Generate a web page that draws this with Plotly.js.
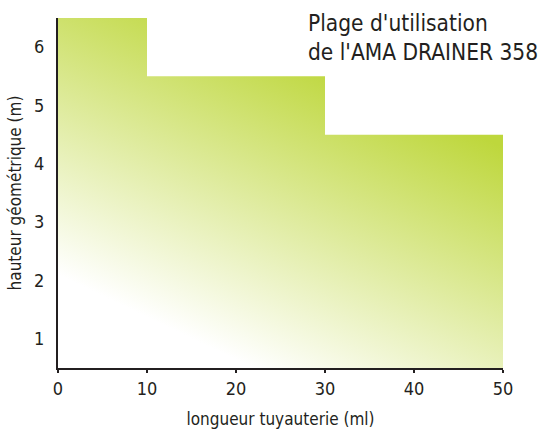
<!DOCTYPE html>
<html>
<head>
<meta charset="utf-8">
<script src="https://cdn.plot.ly/plotly-3.0.1.min.js"></script>
<style>html,body{margin:0;padding:0;background:#fff;}#chart{width:543px;height:433px;}</style>
</head>
<body>
<div id="chart"></div>
<script>
// ---- data ----
var lengthsMl = [0, 10, 30, 50];          // longueur tuyauterie (ml) – step starts
var heightsM  = [6.5, 5.5, 4.5, 4.5];     // hauteur géométrique (m) – max height per step
var xTickVals = [0, 10, 20, 30, 40, 50];
var yLabelVals = [1, 2, 3, 4, 5, 6];
var yTickMarks = [0.5, 1.5, 2.5, 3.5, 4.5, 5.5, 6.5];
var titleLines = ["Plage d'utilisation", "de l'AMA DRAINER 358"];
var xTitle = "longueur tuyauterie (ml)";
var yTitle = "hauteur géométrique (m)";

// ---- style ----
var FONT = '"Liberation Sans Narrow", "DejaVu Sans Condensed", "Arial Narrow", sans-serif';
var INK = '#231f20';
var GREEN = '#bed73c';
var GRAD = { whitePt: [0, 2.1], greenPt: [14.9, 6.85] }; // diagonal gradient direction (style)

var traces = [{
  type: 'scatter', mode: 'lines',
  x: lengthsMl, y: heightsM,
  line: { shape: 'hv', width: 0, color: GREEN },
  fill: 'tozeroy',
  fillgradient: { type: 'horizontal', colorscale: [[0, '#ffffff'], [1, GREEN]] },
  hoverinfo: 'skip', showlegend: false
}];

var tickFont = { family: FONT, size: 18, color: INK };
var layout = {
  width: 543, height: 433,
  margin: { l: 58, r: 40, t: 18, b: 65 },
  paper_bgcolor: '#ffffff', plot_bgcolor: 'rgba(0,0,0,0)',
  showlegend: false,
  xaxis: {
    range: [0, 50], autorange: false, tickmode: 'array', tickvals: xTickVals,
    ticks: 'outside', ticklen: 3, tickwidth: 1.2, tickcolor: INK,
    showline: true, linecolor: INK, linewidth: 2, showgrid: false, zeroline: false,
    tickfont: tickFont,
    title: { text: xTitle, font: { family: FONT, size: 17, color: INK }, standoff: 16 }
  },
  xaxis2: {
    overlaying: 'x', anchor: 'y', side: 'bottom',
    range: [0, 50], autorange: false, tickmode: 'array', tickvals: xTickVals,
    ticks: 'inside', ticklen: 3, tickwidth: 1.2, tickcolor: INK,
    showticklabels: false, showline: false, showgrid: false, zeroline: false
  },
  yaxis: {
    range: [0.5, 6.5], autorange: false, tickmode: 'array', tickvals: yLabelVals,
    ticks: 'outside', ticklen: 8, tickcolor: 'rgba(0,0,0,0)',
    showline: true, linecolor: INK, linewidth: 2, showgrid: false, zeroline: false,
    tickfont: tickFont,
    title: { text: yTitle, font: { family: FONT, size: 17, color: INK }, standoff: 8 }
  },
  yaxis2: {
    overlaying: 'y', anchor: 'x', side: 'left',
    range: [0.5, 6.5], autorange: false, tickmode: 'array', tickvals: yTickMarks,
    ticks: 'outside', ticklen: 4, tickwidth: 1.2, tickcolor: INK,
    showticklabels: false, showline: false, showgrid: false, zeroline: false
  },
  yaxis3: {
    overlaying: 'y', anchor: 'x', side: 'left',
    range: [0.5, 6.5], autorange: false, tickmode: 'array', tickvals: yTickMarks,
    ticks: 'inside', ticklen: 3, tickwidth: 1.2, tickcolor: INK,
    showticklabels: false, showline: false, showgrid: false, zeroline: false
  },
  annotations: [{
    text: titleLines.join('<br>'),
    xref: 'paper', yref: 'paper', x: 0.557, y: 1.03,
    xanchor: 'left', yanchor: 'top', align: 'left', showarrow: false,
    font: { family: FONT, size: 22.5, color: INK }
  }]
};

var gd = document.getElementById('chart');
Plotly.newPlot(gd, traces, layout, { staticPlot: true, displayModeBar: false }).then(function () {
  var xa = gd._fullLayout.xaxis, ya = gd._fullLayout.yaxis;
  // colour stops come out reversed in the generated gradient, so run it green -> white
  var gx = xa.c2p(GRAD.greenPt[0]), gy = ya.c2p(GRAD.greenPt[1]);
  var wx = xa.c2p(GRAD.whitePt[0]), wy = ya.c2p(GRAD.whitePt[1]);
  gd.querySelectorAll('linearGradient').forEach(function (g) {
    var stops = g.querySelectorAll('stop');
    var firstColor = stops.length ? (stops[0].getAttribute('stop-color') || '') : '';
    var firstIsWhite = /255,\s*255,\s*255|#fff/i.test(firstColor);
    g.setAttribute('gradientUnits', 'userSpaceOnUse');
    if (firstIsWhite) {
      g.setAttribute('x1', wx); g.setAttribute('y1', wy);
      g.setAttribute('x2', gx); g.setAttribute('y2', gy);
    } else {
      g.setAttribute('x1', gx); g.setAttribute('y1', gy);
      g.setAttribute('x2', wx); g.setAttribute('y2', wy);
    }
  });
});
</script>
</body>
</html>
